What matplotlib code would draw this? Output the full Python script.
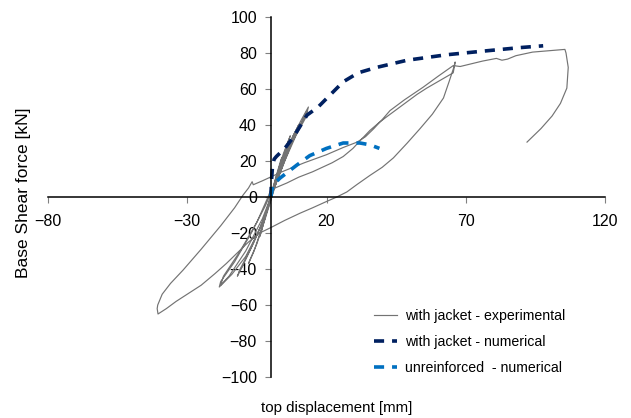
import numpy as np
import matplotlib.pyplot as plt

plt.rcParams['font.family'] = ['Liberation Sans', 'DejaVu Sans']

# experimental hysteresis, displacement [mm] / force [kN]
exp_disp = [0, 1.5, 3, 4, 3.5, 2, 0.5, -1, -2.5, -4, -3.5, -2, -0.5, 0.5,
            2.5, 4.5, 6.5, 7, 6, 4, 1.5, -0.5, -3, -6, -8, -7.5, -5, -2, 0,
            2, 5, 8, 10, 9, 6, 3, 0, -3, -7, -11, -12, -10, -6, -2, 0,
            2, 5, 8, 11, 13.5, 13, 10, 6, 2, -0.5, -4, -9, -14, -18.5, -18, -13, -7, -2, 0,
            3, 7, 10, 13, 12.5, 9, 5, 1, -3, -9, -15, -18, -17, -11, -5, -1,
            0, 5.8, 10, 15, 22, 26, 29.5, 32.5, 35.6, 39, 42, 45.5, 48.8, 52.5, 56, 61, 65.5, 66.2,
            65.5, 64, 62, 58, 53.6, 49, 44, 40, 35.6, 31, 27.3, 23.7, 20, 15, 10.5, 5, 0, -4,
            -8, -12, -16, -20, -25, -30, -34, -37.5, -40.5, -40.8,
            -40.6, -39, -36, -31.5, -25, -18, -13, -10, -8, -6.7, -6.3, -3, 4, 12, 20, 26, 31,
            34, 37, 40, 42.8, 48, 54.7, 60, 65.5,
            68, 72, 76, 81, 83, 85, 88, 91, 94, 98, 102, 105.6, 106, 106.8, 106.5, 106.3,
            104, 101, 97, 92]
exp_force = [0, 8, 16, 22, 20, 12, 3, -6, -14, -22, -20, -11, -2, 4,
             14, 24, 32, 34, 30, 20, 8, -3, -16, -30, -37, -35, -26, -12, -2,
             10, 24, 34, 40, 36, 26, 14, 0, -14, -28, -40, -44, -38, -25, -10, 0,
             8, 22, 34, 43, 50, 47, 38, 25, 8, -4, -18, -33, -43, -50, -47, -36, -20, -5, 2,
             12, 28, 38, 48, 44, 34, 20, 4, -12, -30, -44, -49, -44, -30, -14, 0,
             4, 7.8, 11, 14, 19, 22.5, 27, 32, 37, 41.5, 45, 49, 52.8, 57, 60.5, 65, 69, 75,
             71, 64, 55, 46, 38, 30, 21.7, 16.5, 12, 7, 2.8, 0, -2.5, -6, -9, -13, -17, -20,
             -25, -31, -37, -42.5, -49, -54, -58, -62, -65, -62,
             -60, -54, -48, -40.6, -29, -16, -6, 1, 5, 8.5, 6.8, 9, 14, 19, 23.5, 27.5, 30.5,
             33.5, 38, 43, 48, 54, 61, 67, 73,
             72.5, 74, 75.5, 77, 76, 76.6, 78.5, 79.5, 80.5, 81, 81.5, 82, 80, 72, 65, 60.5,
             52, 45, 38, 30.5]

jacket_disp = [0, 0.3, 0.6, 1.2, 2, 5, 8, 13, 17, 21.3, 26, 31.4, 38, 49, 63, 76, 89.5, 97.8]
jacket_force = [0, 10, 17, 21, 22.5, 27, 33, 45.5, 50, 56.7, 64, 69, 72, 76, 79, 81, 83, 84]

unrein_disp = [0, 0.8, 3.3, 9.4, 14, 20, 26, 32, 35.6, 39]
unrein_force = [0, 6.7, 10.5, 17.8, 23, 27, 30, 30, 29, 27]

x_ticks = [-80, -30, 20, 70, 120]
y_ticks = list(range(-100, 101, 20))

fig = plt.figure(figsize=(6.31, 4.18), dpi=100)
ax = fig.add_axes([48 / 631, 41 / 418, 557 / 631, 360 / 418])

ax.plot(exp_disp, exp_force, color='#737373', lw=0.85, label='with jacket - experimental')
ax.plot(jacket_disp, jacket_force, color='#002060', lw=2.6, ls=(0, (2.8, 2.2)),
        label='with jacket - numerical')
ax.plot(unrein_disp, unrein_force, color='#0070c0', lw=2.6, ls=(0, (2.8, 2.2)),
        label='unreinforced  - numerical')

ax.set_xlim(-80, 120)
ax.set_ylim(-100, 100)
ax.set_xticks(x_ticks)
ax.set_yticks(y_ticks)

ax.spines['left'].set_position(('data', 0))
ax.spines['bottom'].set_position(('data', 0))
ax.spines['right'].set_visible(False)
ax.spines['top'].set_visible(False)
for s in ('left', 'bottom'):
    ax.spines[s].set_linewidth(1.1)
ax.tick_params(axis='x', direction='out', length=4, width=0.8, labelsize=11.5, pad=8, color='#808080')
ax.tick_params(axis='y', direction='out', length=4, width=0.8, labelsize=11.5, pad=6, color='#808080')

fig.text(24 / 631, 1 - 193 / 418, 'Base Shear force [kN]', rotation=90,
         ha='center', va='center', fontsize=12.5)
fig.text(337 / 631, 1 - 408 / 418, 'top displacement [mm]', ha='center', va='center', fontsize=10.8)

ax.legend(loc='center', bbox_to_anchor=(470 / 631, 1 - 342 / 418), bbox_transform=fig.transFigure,
          frameon=False, fontsize=10.2, handlelength=1.6, handletextpad=0.6, labelspacing=0.85)

fig.savefig('out.png', dpi=100)
